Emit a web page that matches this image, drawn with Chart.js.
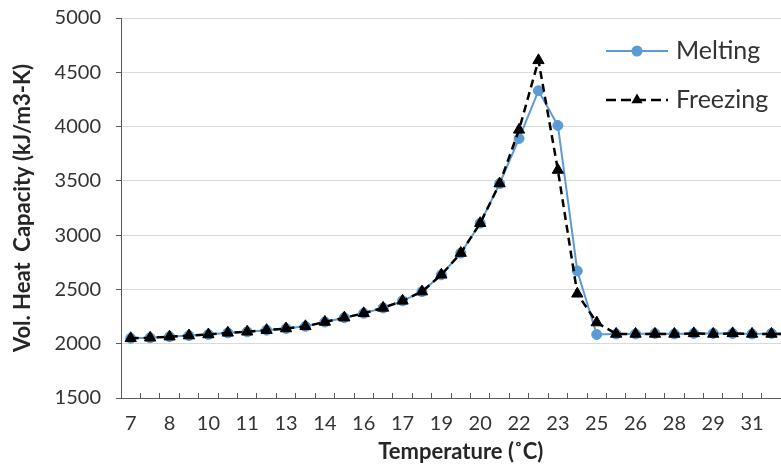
<!DOCTYPE html>
<html>
<head>
<meta charset="utf-8">
<script src="https://cdn.jsdelivr.net/npm/chart.js@4.4.1/dist/chart.umd.min.js"></script>
<style>
  html, body { margin: 0; padding: 0; background: #fff; overflow: hidden; }
  #wrap { width: 810px; height: 468px; }
</style>
</head>
<body>
<div id="wrap"><canvas id="chart"></canvas></div>
<script>
// temperature categories (°C), labelled every other one
const temperatures = [7, 7.75, 8.5, 9.25, 10, 10.75, 11.5, 12.25, 13, 13.75, 14.5, 15.25,
  16, 16.75, 17.5, 18.25, 19, 19.75, 20.5, 21.25, 22, 22.75, 23.5, 24.25, 25, 25.75,
  26.5, 27.25, 28, 28.75, 29.5, 30.25, 31, 31.75, 32.5];
const tickLabels = ['7', '', '8', '', '10', '', '11', '', '13', '', '14', '', '16', '', '17', '',
  '19', '', '20', '', '22', '', '23', '', '25', '', '26', '', '28', '', '29', '', '31', '', ''];

// vol. heat capacity (kJ/m3-K)
const melting = [2050, 2055, 2065, 2075, 2085, 2100, 2110, 2125, 2140, 2160, 2200, 2240,
  2280, 2330, 2395, 2480, 2635, 2835, 3110, 3475, 3890, 4330, 4010, 2670, 2085, 2090,
  2090, 2095, 2090, 2095, 2095, 2095, 2090, 2095, 2095];
const freezing = [2050, 2055, 2065, 2075, 2085, 2100, 2110, 2125, 2140, 2160, 2200, 2240,
  2280, 2330, 2395, 2480, 2635, 2835, 3110, 3475, 3970, 4610, 3600, 2460, 2195, 2090,
  2090, 2090, 2090, 2095, 2090, 2095, 2090, 2090, 2090];

const yTicks = { min: 1500, max: 5000, step: 500 };

const BLUE = '#5B9BD5';
const AXIS = '#595959';
const TEXT = '#333333';
const FONT = 'Lato';

// legend drawn inside the plot, top right (line + marker + text like Excel)
const insideLegend = {
  id: 'insideLegend',
  afterDraw(chart) {
    const ctx = chart.ctx;
    const top = chart.chartArea.top;
    const rows = [
      { label: 'Melting', y: top + 33, color: BLUE, dash: [], width: 2, marker: 'circle' },
      { label: 'Freezing', y: top + 82, color: '#000', dash: [10, 5], width: 2.5, marker: 'triangle' }
    ];
    const x0 = 606, x1 = 668, xm = 637;
    ctx.save();
    rows.forEach(r => {
      ctx.strokeStyle = r.color;
      ctx.fillStyle = r.color;
      ctx.lineWidth = r.width;
      ctx.setLineDash(r.dash);
      ctx.beginPath();
      ctx.moveTo(x0, r.y);
      ctx.lineTo(x1, r.y);
      ctx.stroke();
      ctx.setLineDash([]);
      ctx.beginPath();
      if (r.marker === 'circle') {
        ctx.arc(xm, r.y, 5.5, 0, Math.PI * 2);
      } else {
        ctx.moveTo(xm, r.y - 6.5);
        ctx.lineTo(xm + 5.6, r.y + 3.25);
        ctx.lineTo(xm - 5.6, r.y + 3.25);
        ctx.closePath();
      }
      ctx.fill();
      ctx.fillStyle = TEXT;
      ctx.font = '25px ' + FONT;
      ctx.textBaseline = 'middle';
      ctx.textAlign = 'left';
      ctx.fillText(r.label, 676, r.y);
    });
    ctx.restore();
  }
};

new Chart(document.getElementById('chart'), {
  type: 'line',
  data: {
    labels: temperatures,
    datasets: [
      {
        label: 'Melting',
        data: melting,
        borderColor: BLUE,
        backgroundColor: BLUE,
        borderWidth: 2,
        pointStyle: 'circle',
        pointRadius: 5,
        pointBorderWidth: 1,
        pointBackgroundColor: BLUE,
        pointBorderColor: BLUE,
        tension: 0,
        order: 2
      },
      {
        label: 'Freezing',
        data: freezing,
        borderColor: '#000',
        backgroundColor: '#000',
        borderWidth: 2.5,
        borderDash: [8, 5],
        pointStyle: 'triangle',
        pointRadius: 6.5,
        pointBorderWidth: 1,
        pointBackgroundColor: '#000',
        pointBorderColor: '#000',
        tension: 0,
        order: 1
      }
    ]
  },
  options: {
    responsive: true,
    maintainAspectRatio: false,
    animation: false,
    layout: { padding: { top: 18, left: 0, right: 4, bottom: 0 } },
    plugins: {
      legend: { display: false },
      tooltip: { enabled: false }
    },
    scales: {
      x: {
        offset: true,
        grid: { offset: true, drawOnChartArea: false, drawTicks: true, tickLength: -5, color: AXIS, tickColor: AXIS },
        border: { color: AXIS, width: 1 },
        ticks: {
          autoSkip: false, maxRotation: 0, padding: 19, color: TEXT,
          font: { family: FONT, size: 20 },
          callback: (v, i) => tickLabels[i]
        },
        title: {
          display: true, text: 'Temperature (˚C)', color: '#262626',
          font: { family: FONT, size: 22, weight: 'bold' },
          padding: { top: 0, bottom: 3 }
        },
        afterFit: s => { s.height = 70; }
      },
      y: {
        min: yTicks.min,
        max: yTicks.max,
        grid: { color: '#d9d9d9', tickColor: AXIS, tickLength: 5, lineWidth: 1 },
        border: { color: AXIS, width: 1 },
        ticks: {
          stepSize: yTicks.step, padding: 15, color: TEXT,
          font: { family: FONT, size: 20 },
          callback: v => String(v)
        },
        title: {
          display: true, text: 'Vol. Heat  Capacity (kJ/m3-K)', color: '#262626',
          font: { family: FONT, size: 22, weight: 'bold' },
          padding: { top: 10, bottom: 0 }
        },
        afterFit: s => { s.width = 121; s.paddingTop = 0; s.paddingBottom = 0; }
      }
    }
  },
  plugins: [insideLegend]
});
</script>
</body>
</html>
